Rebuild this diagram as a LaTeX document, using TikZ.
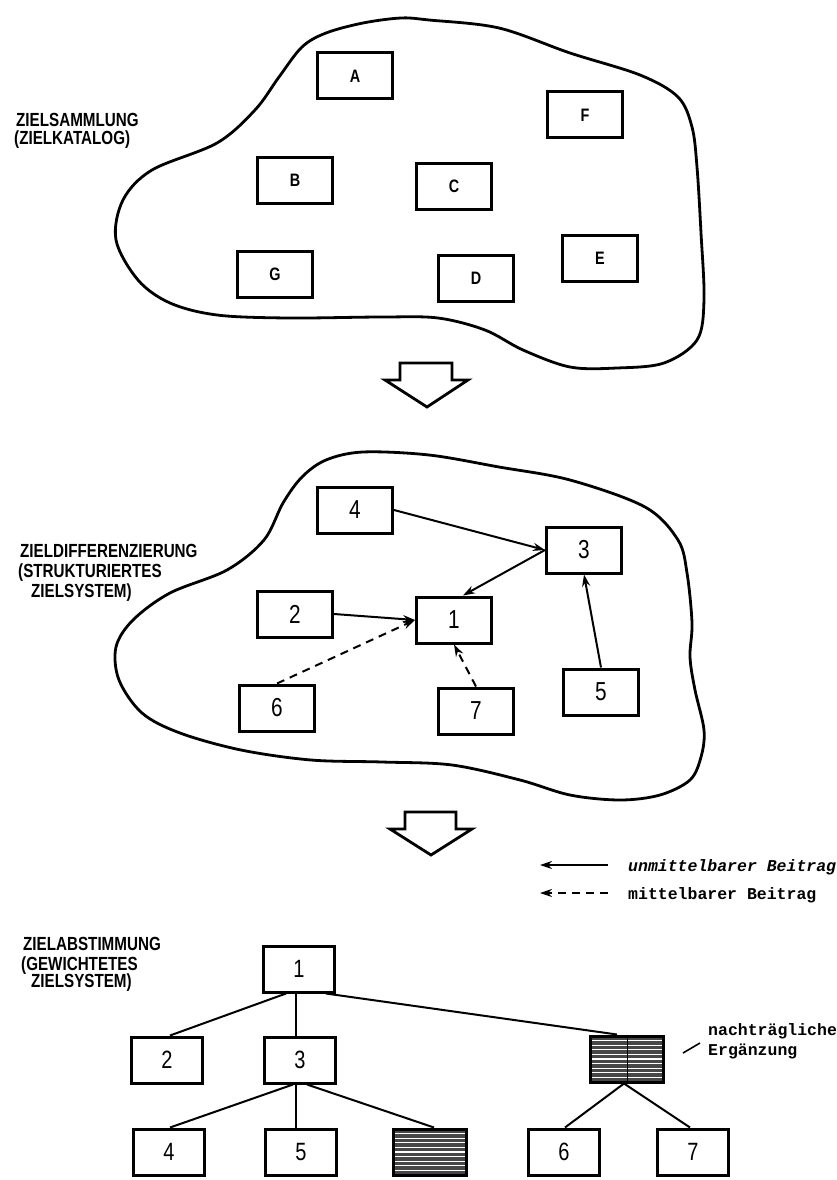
\documentclass[tikz,border=0pt]{standalone}
\usepackage{fontspec}
\setmainfont{Liberation Sans}
\newfontfamily\lblfont[FakeStretch=0.8]{Liberation Sans}
\newfontfamily\monofont{Liberation Mono}
\usetikzlibrary{arrows.meta,calc}
\begin{document}
\begin{tikzpicture}[x=1pt,y=-1pt,
  box/.style={draw,line width=3pt,minimum width=75pt,minimum height=46pt,inner sep=0pt,
    font=\lblfont\bfseries\fontsize{18}{18}\selectfont},
  numbox/.style={box,font=\lblfont\fontsize{26}{26}\selectfont},
  tbox/.style={box,minimum width=71pt,font=\lblfont\fontsize{25}{25}\selectfont},
  hatchbox/.style={draw,line width=3pt,minimum width=73pt,minimum height=46pt,inner sep=0pt,
    fill=black!72,
    path picture={\foreach \k in {1,...,9}
      \draw[white,line width=1.3pt]
        ([yshift=-\k*4.6pt]path picture bounding box.north west) --
        ([yshift=-\k*4.6pt]path picture bounding box.north east);}},
  blob/.style={line width=2.8pt,line join=round},
  hollow/.style={line width=2.8pt,line join=miter,fill=white},
  conn/.style={line width=2pt,-{Stealth[length=12pt,width=8pt]}},
  dconn/.style={conn,dash pattern=on 8pt off 6pt},
  tline/.style={line width=2pt},
  lbl/.style={font=\lblfont\bfseries\fontsize{19}{19}\selectfont,inner sep=0pt,anchor=base west},
  mono/.style={font=\monofont\bfseries\fontsize{16.5}{18}\selectfont,inner sep=0pt,anchor=base west}
]
\useasboundingbox (0,0) rectangle (837,1180);

% ---------- top blob ----------
\draw[blob] plot[smooth cycle,tension=0.55] coordinates {
 (302,47) (326,33) (363,23) (401,18) (429,20) (499,28) (570,53) (640,75) (678,97)
 (692,127) (697,167) (701,233) (704,300) (697,340) (664,363) (617,368) (570,367)
 (523,350) (485,330) (438,318) (382,317) (288,318) (217,315) (170,303) (138,280)
 (116,240) (123,200) (152,170) (217,143) (255,110) (279,77)};

\node[box] (A) at (355,76) {A};
\node[box] (F) at (585,115) {F};
\node[box] (B) at (295,180) {B};
\node[box] (C) at (454,186) {C};
\node[box] (G) at (275,274) {G};
\node[box] (D) at (476,278) {D};
\node[box] (E) at (600,258) {E};

\node[lbl] (l1a) at (16,127) {ZIELSAMMLUNG};
\node[lbl] (l1b) at (14,145) {(ZIELKATALOG)};

% ---------- hollow arrow 1 ----------
\draw[hollow] (400,363) -- (452,363) -- (452,380) -- (468,380) -- (427,407)
  -- (385,380) -- (400,380) -- cycle;

% ---------- middle blob ----------
\draw[blob] plot[smooth cycle,tension=0.55] coordinates {
 (302,477) (326,460) (363,452) (429,455) (499,467) (570,480) (645,507) (678,540)
 (687,573) (692,623) (690,657) (695,690) (704,730) (701,757) (690,780) (660,795)
 (620,800) (570,795) (520,780) (452,765) (382,762) (311,760) (241,750) (180,733)
 (142,713) (119,680) (116,647) (133,620) (170,593) (227,570) (264,540) (283,503)};

\node[numbox] (m4) at (355,510) {4};
\node[numbox] (m3) at (584,550) {3};
\node[numbox] (m2) at (295,614) {2};
\node[numbox] (m1) at (454,620) {1};
\node[numbox] (m6) at (277,708) {6};
\node[numbox] (m7) at (476,711) {7};
\node[numbox] (m5) at (601,692) {5};

\draw[conn] (m4.east) -- (m3.west);
\draw[conn] (m3.west) -- (m1.70);
\draw[conn] (m2.east) -- (m1.west);
\draw[dconn] (m6.north) -- (m1.west);
\draw[dconn] (m7.north) -- (m1.south);
\draw[conn] (m5.north) -- (m3.south);

\node[lbl] (l2a) at (20,557) {ZIELDIFFERENZIERUNG};
\node[lbl] (l2b) at (18,577) {(STRUKTURIERTES};
\node[lbl] (l2c) at (31,597) {ZIELSYSTEM)};

% ---------- hollow arrow 2 ----------
\draw[hollow] (405,812) -- (456,812) -- (456,829) -- (472,829) -- (431,855)
  -- (390,829) -- (405,829) -- cycle;

% ---------- legend ----------
\coordinate (lg1r) at (608,865);
\coordinate (lg1l) at (540,865);
\coordinate (lg2r) at (608,893);
\coordinate (lg2l) at (540,893);
\draw[conn] (lg1r) -- (lg1l);
\draw[dconn] (lg2r) -- (lg2l);
\node[mono,font=\monofont\bfseries\itshape\fontsize{16.5}{18}\selectfont] (lgt1) at (628,871) {unmittelbarer Beitrag};
\node[mono] (lgt2) at (628,899) {mittelbarer Beitrag};

% ---------- tree ----------
\node[lbl] (l3a) at (23,950) {ZIELABSTIMMUNG};
\node[lbl] (l3b) at (21,970) {(GEWICHTETES};
\node[lbl] (l3c) at (31,987) {ZIELSYSTEM)};

\node[tbox] (t1) at (299,969) {1};
\node[tbox] (t2) at (167,1060) {2};
\node[tbox] (t3) at (300,1060) {3};
\node[hatchbox] (th1) at (627,1059) {};
\node[tbox] (t4) at (169,1152) {4};
\node[tbox] (t5) at (301,1152) {5};
\node[hatchbox] (th2) at (430,1152) {};
\node[tbox] (t6) at (564,1152) {6};
\node[tbox] (t7) at (693,1152) {7};
\draw[line width=0.8pt,black] (th1.north) -- (th1.south);

\draw[tline] ([xshift=-13pt]t1.south) -- ([xshift=3pt]t2.north);
\draw[tline] ([xshift=-3pt]t1.south) -- ([xshift=-4pt]t3.north);
\draw[tline] ([xshift=27pt]t1.south) -- ([xshift=-10pt]th1.north);
\draw[tline] ([xshift=-7pt]t3.south) -- ([xshift=1pt]t4.north);
\draw[tline] ([xshift=-4pt]t3.south) -- ([xshift=-5pt]t5.north);
\draw[tline] ([xshift=7pt]t3.south) -- ([xshift=4pt]th2.north);
\draw[tline] ([xshift=-3pt]th1.south) -- ([xshift=1pt]t6.north);
\draw[tline] ([xshift=-3pt]th1.south) -- ([xshift=-3pt]t7.north);

\coordinate (pa) at (683,1053);
\coordinate (pb) at (700,1043);
\draw[line width=1.6pt] (pa) -- (pb);
\node[mono] (ng1) at (708,1035) {nachträgliche};
\node[mono] (ng2) at (708,1055) {Ergänzung};
\end{tikzpicture}
\end{document}
